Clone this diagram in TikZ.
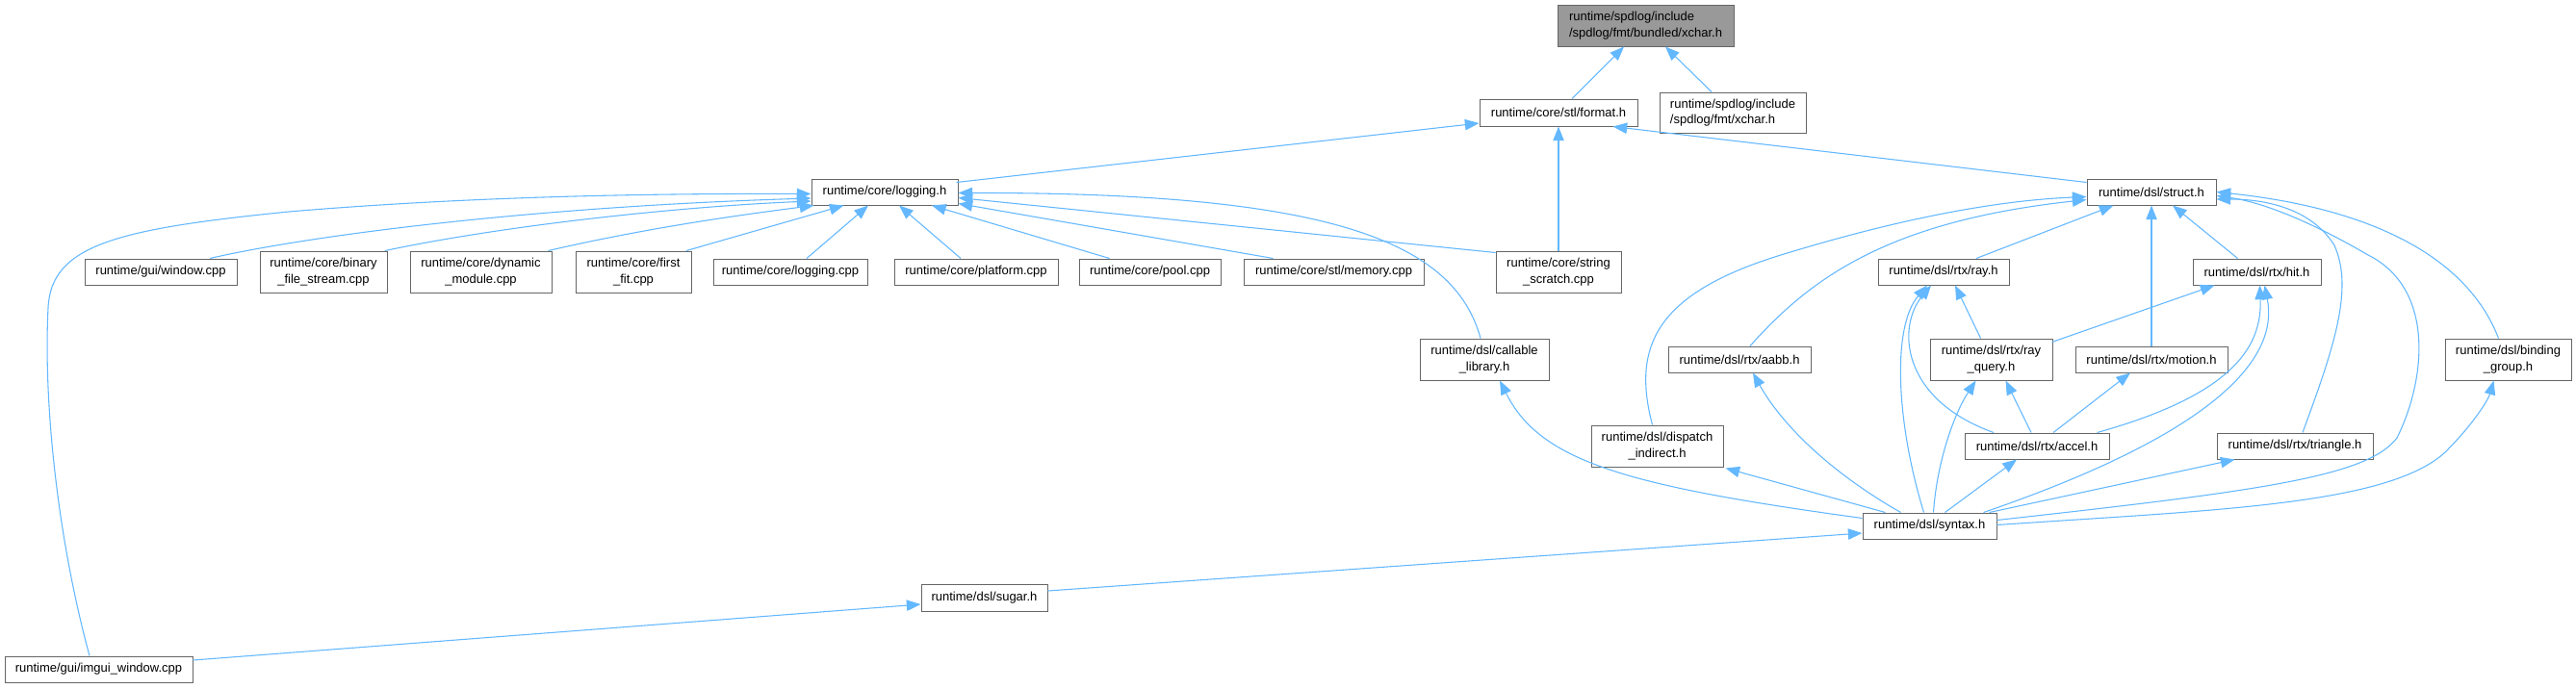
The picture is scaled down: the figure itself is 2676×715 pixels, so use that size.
\documentclass[tikz,border=0pt]{standalone}
\usepackage{fontspec}
\setmainfont{Liberation Sans}
\usetikzlibrary{arrows.meta,calc}
\definecolor{edgec}{HTML}{63B8FF}
\definecolor{boxb}{HTML}{666666}
\definecolor{rootf}{HTML}{999999}
\begin{document}
\begin{tikzpicture}[x=0.75pt,y=-0.75pt,
 box/.style={draw=boxb,line width=0.75pt,fill=white,inner sep=0pt,align=center,font=\fontsize{9.75}{12.5}\selectfont},
 sz/.style 2 args={minimum width={#1*0.75pt},minimum height={#2*0.75pt}},
 edge/.style={draw=edgec,line width=0.8pt,-{Triangle[length=11pt,width=8.5pt]}}]
\useasboundingbox[fill=white] (0,0) rectangle (2676,715);
% nodes
\node[box,sz={183}{43},fill=rootf,align=left] (xcharb) at (1709.5,26.5) {runtime/spdlog/include\\/spdlog/fmt/bundled/xchar.h};
\node[box,sz={152}{42},align=left] (fmtxchar) at (1800,117) {runtime/spdlog/include\\/spdlog/fmt/xchar.h};
\node[box,sz={164}{28}] (format) at (1619,117) {runtime/core/stl/format.h};
\node[box,sz={152}{27}] (loggingh) at (919,199.5) {runtime/core/logging.h};
\node[box,sz={134}{27}] (struct) at (2235,199.5) {runtime/dsl/struct.h};
\node[box,sz={158}{27}] (window) at (167,282.5) {runtime/gui/window.cpp};
\node[box,sz={132}{43}] (binary) at (336,282.5) {runtime/core/binary\\\_file\_stream.cpp};
\node[box,sz={147}{43}] (dynamic) at (499.5,282.5) {runtime/core/dynamic\\\_module.cpp};
\node[box,sz={120}{43}] (firstfit) at (658,282.5) {runtime/core/first\\\_fit.cpp};
\node[box,sz={160}{27}] (loggingcpp) at (821,282.5) {runtime/core/logging.cpp};
\node[box,sz={170}{27}] (platform) at (1014,282.5) {runtime/core/platform.cpp};
\node[box,sz={147}{27}] (pool) at (1194.5,282.5) {runtime/core/pool.cpp};
\node[box,sz={187}{27}] (memory) at (1385.5,282.5) {runtime/core/stl/memory.cpp};
\node[box,sz={130}{43}] (scratch) at (1619,282.5) {runtime/core/string\\\_scratch.cpp};
\node[box,sz={136}{27}] (ray) at (2019,282.5) {runtime/dsl/rtx/ray.h};
\node[box,sz={133}{27}] (hit) at (2344.5,282.5) {runtime/dsl/rtx/hit.h};
\node[box,sz={134}{43}] (callable) at (1542,373.5) {runtime/dsl/callable\\\_library.h};
\node[box,sz={148}{27}] (aabb) at (1807,373.5) {runtime/dsl/rtx/aabb.h};
\node[box,sz={127}{43}] (rayquery) at (2068.5,373.5) {runtime/dsl/rtx/ray\\\_query.h};
\node[box,sz={158}{27}] (motion) at (2235,373.5) {runtime/dsl/rtx/motion.h};
\node[box,sz={131}{43}] (binding) at (2605.5,373.5) {runtime/dsl/binding\\\_group.h};
\node[box,sz={137}{43}] (dispatch) at (1721.5,463.5) {runtime/dsl/dispatch\\\_indirect.h};
\node[box,sz={150}{27}] (accel) at (2116,463.5) {runtime/dsl/rtx/accel.h};
\node[box,sz={162}{27}] (triangle) at (2384,463.5) {runtime/dsl/rtx/triangle.h};
\node[box,sz={139}{27}] (syntax) at (2004.5,546.5) {runtime/dsl/syntax.h};
\node[box,sz={131}{28}] (sugar) at (1022.5,621) {runtime/dsl/sugar.h};
\node[box,sz={195}{27}] (imgui) at (102.5,695.5) {runtime/gui/imgui\_window.cpp};
% edges
\draw[edge] ($(format.north)+(14,0)$) -- ($(xcharb.south)+(-22.5,0)$);
\draw[edge] ($(fmtxchar.north)+(-22,0)$) -- ($(xcharb.south)+(20.5,0)$);
\draw[edge] ($(loggingh.north east)+(-2,4)$) -- ($(format.west)+(0,11)$);
\draw[edge] ($(struct.north west)+(0,4)$) -- ($(format.south east)+(-26,0)$);
\draw[edge] (scratch.north) -- (format.south);
\draw[edge] ($(window.north)+(51,0)$) .. controls (320,245) and (550,215) .. ($(loggingh.west)+(0,6.5)$);
\draw[edge] ($(binary.north)+(64,0)$) .. controls (520,235) and (700,215) .. ($(loggingh.west)+(0,9.5)$);
\draw[edge] ($(dynamic.north)+(70,0)$) .. controls (680,235) and (780,222) .. ($(loggingh.south west)+(3,0)$);
\draw[edge] ($(firstfit.north)+(55,0)$) -- ($(loggingh.south west)+(34,0)$);
\draw[edge] ($(loggingcpp.north)+(17,0)$) -- ($(loggingh.south)+(-17,0)$);
\draw[edge] ($(platform.north)+(-16,0)$) -- ($(loggingh.south)+(15,0)$);
\draw[edge] ($(pool.north)+(-42,0)$) -- ($(loggingh.south)+(49,0)$);
\draw[edge] ($(memory.north)+(-63,0)$) -- ($(loggingh.east)+(0,12)$);
\draw[edge] ($(scratch.north west)+(0,2)$) -- ($(loggingh.east)+(0,6)$);
\draw[edge] ($(callable.north)+(-4,0)$) .. controls (1510,250) and (1380,200) .. ($(loggingh.east)+(0,1)$);
\draw[edge] ($(imgui.north)+(-9.5,0)$) .. controls (60,560) and (45,420) .. (50,320) .. controls (53,255) and (120,238) .. (300,220) .. controls (500,203) and (700,201) .. ($(loggingh.west)+(0,2)$);
\draw[edge] ($(imgui.east)+(0,-9.5)$) -- ($(sugar.west)+(0,7)$);
\draw[edge] ($(sugar.east)+(0,-7)$) -- ($(syntax.west)+(0,7.5)$);
\draw[edge] ($(syntax.west)+(0,-8)$) .. controls (1690,505) and (1600,480) .. ($(callable.south)+(16,0)$);
\draw[edge] ($(syntax.north)+(-46,0)$) -- ($(dispatch.south east)+(2,1)$);
\draw[edge] ($(syntax.north)+(-30,0)$) .. controls (1900,490) and (1850,440) .. ($(aabb.south)+(14,0)$);
\draw[edge] ($(syntax.north)+(-6,0)$) .. controls (1970,440) and (1965,340) .. ($(ray.south)+(-17,0)$);
\draw[edge] ($(syntax.north)+(4,0)$) .. controls (2012,480) and (2030,430) .. ($(rayquery.south)+(-16,0)$);
\draw[edge] ($(syntax.north)+(16,0)$) -- ($(accel.south)+(-21,0)$);
\draw[edge] ($(syntax.north)+(56,0)$) .. controls (2330,440) and (2365,360) .. ($(hit.south)+(8,0)$);
\draw[edge] ($(syntax.north)+(62,0)$) -- ($(triangle.south west)+(19,0)$);
\draw[edge] ($(syntax.east)+(0,-6)$) .. controls (2350,510) and (2460,495) .. (2490,455) .. controls (2520,395) and (2530,300) .. (2460,265) .. controls (2400,230) and (2350,210) .. ($(struct.east)+(0,4)$);
\draw[edge] ($(syntax.east)+(0,-1)$) .. controls (2300,530) and (2480,525) .. (2540,470) .. controls (2570,440) and (2585,415) .. ($(binding.south)+(-15,0)$);
\draw[edge] ($(dispatch.north)+(-5,0)$) .. controls (1695,360) and (1720,305) .. (1850,265) .. controls (1980,225) and (2080,208) .. ($(struct.west)+(0,5)$);
\draw[edge] ($(aabb.north)+(11,0)$) .. controls (1880,290) and (1960,230) .. ($(struct.west)+(0,8)$);
\draw[edge] ($(ray.north)+(34,0)$) -- ($(struct.south west)+(28,0)$);
\draw[edge] ($(hit.north)+(-20,0)$) -- ($(struct.south)+(22,0)$);
\draw[edge] (motion.north) -- (struct.south);
\draw[edge] ($(triangle.north)+(8,0)$) .. controls (2425,360) and (2445,300) .. (2425,255) .. controls (2400,215) and (2350,207) .. ($(struct.east)+(0,7.5)$);
\draw[edge] ($(binding.north)+(-10,0)$) .. controls (2560,260) and (2450,215) .. ($(struct.east)+(0,0)$);
\draw[edge] ($(rayquery.north)+(-11,0)$) -- ($(ray.south)+(12,0)$);
\draw[edge] ($(rayquery.north east)+(-1,4)$) -- ($(hit.south)+(-44,0)$);
\draw[edge] ($(accel.north)+(-45,0)$) .. controls (1975,415) and (1970,340) .. ($(ray.south)+(-13,0)$);
\draw[edge] ($(accel.north)+(-6,0)$) -- ($(rayquery.south)+(15,0)$);
\draw[edge] ($(accel.north)+(17,0)$) -- ($(motion.south)+(-22,0)$);
\draw[edge] ($(accel.north east)+(-13,0)$) .. controls (2320,410) and (2350,360) .. ($(hit.south)+(3,0)$);
\end{tikzpicture}
\end{document}
